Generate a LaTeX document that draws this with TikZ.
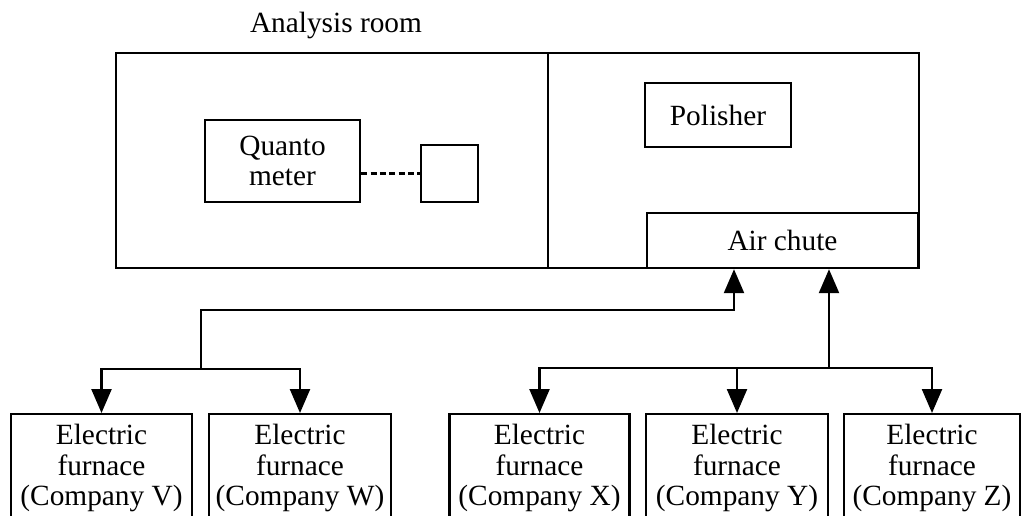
\documentclass[tikz,border=0pt]{standalone}
\usepackage{fontspec}
\setmainfont{Liberation Serif}
\usetikzlibrary{arrows.meta}
\begin{document}
\begin{tikzpicture}[x=0.75pt,y=-0.75pt,
  every node/.style={font=\fontsize{22pt}{23pt}\selectfont},
  box/.style={draw, line width=1.8pt, inner sep=0pt, align=center},
  furnace/.style={box, anchor=north, inner xsep=0pt, inner ysep=7.5pt},
  line/.style={line width=1.8pt},
  arr/.style={line, -{Triangle[length=18pt,width=15pt]}},
  dashline/.style={line width=1.6pt, dash pattern=on 4.5pt off 2.5pt},
]
\useasboundingbox (0,0) rectangle (1021,515);
\clip (0,0) rectangle (1021,515);

% title
\node[anchor=base] (title) at (336,32) {Analysis room};

% rooms
\node[box, minimum width=324pt, minimum height=161.25pt] (lab) at (332,160.5) {};
\node[box, minimum width=278.25pt, minimum height=161.25pt] (prep) at (733.5,160.5) {};

% equipment
\node[box, minimum width=116.25pt, minimum height=61.5pt] (quanto) at (282.5,161) {Quanto\\meter};
\node[box, minimum width=42.75pt, minimum height=42.75pt] (sq) at (449.5,173.5) {};
\node[box, minimum width=109.5pt, minimum height=48pt] (polisher) at (718,115) {Polisher};
\node[box, minimum width=203.25pt, minimum height=41.25pt] (chute) at (782.5,240.5) {Air chute};

\draw[dashline] (quanto.east |- sq.west) -- (sq.west);

% furnaces
\node[furnace, minimum width=135.75pt] (V) at (101.5,413) {Electric\\furnace\\(Company V)};
\node[furnace, minimum width=136.5pt] (W) at (300,413) {Electric\\furnace\\(Company W)};
\node[furnace, minimum width=135pt] (X) at (539.5,413) {Electric\\furnace\\(Company X)};
\node[furnace, minimum width=136.5pt] (Y) at (737,413) {Electric\\furnace\\(Company Y)};
\node[furnace, minimum width=132pt] (Z) at (932,413) {Electric\\furnace\\(Company Z)};

% left distribution
\coordinate (tL) at (734,310);
\coordinate (bL) at (201,369);
\draw[arr] (bL) |- (tL) -- (tL |- chute.south);
\draw[arr] (bL) -| (V.north);
\draw[arr] (bL) -| (W.north);

% right distribution
\coordinate (bR) at (829,368);
\draw[arr] (bR) -- (bR |- chute.south);
\draw[arr] (bR) -| (X.north);
\draw[arr] (bR) -| (Y.north);
\draw[arr] (bR) -| (Z.north);
\end{tikzpicture}
\end{document}
